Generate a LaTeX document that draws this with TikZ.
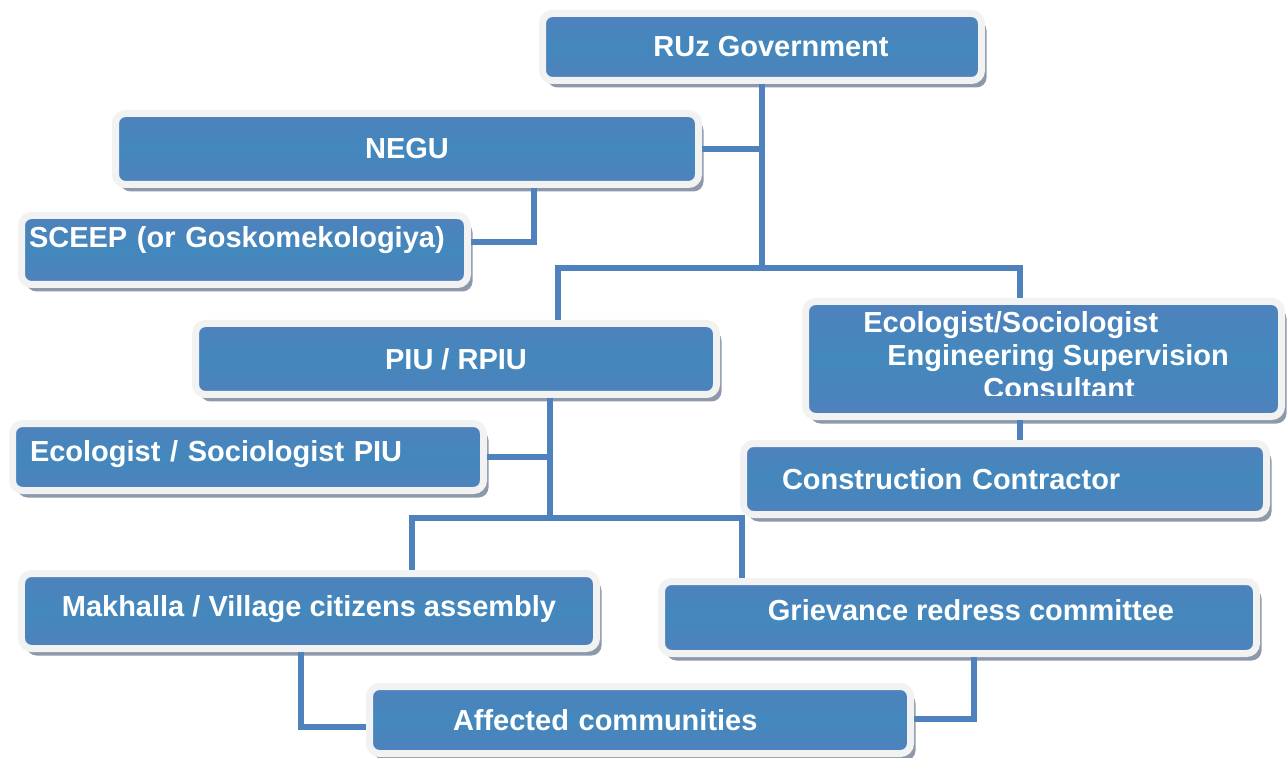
\documentclass[tikz,border=0pt]{standalone}
\usepackage{fontspec}
\setmainfont{Liberation Sans}
\usetikzlibrary{shadows}

\definecolor{boxblue}{HTML}{4F81BD}
\definecolor{boxmid}{HTML}{4388BC}
\definecolor{boxrim}{HTML}{F2F2F2}
\definecolor{boxshade}{HTML}{8D99AA}
\definecolor{linkblue}{HTML}{4F81BD}

\begin{document}
\begin{tikzpicture}[
    txt/.style={text=white,font=\fontsize{16.5}{18.7}\selectfont\bfseries},
    box/.style={txt,draw=boxrim,line width=0.14cm,rounded corners=0.2cm,
        top color=boxblue,bottom color=boxblue,middle color=boxmid,
        drop shadow={shadow xshift=0.1cm,shadow yshift=-0.14cm,fill=boxshade,opacity=1},
        inner sep=0.15cm},
    link/.style={draw=linkblue,line width=0.12cm}]
    \useasboundingbox (0cm,0cm) rectangle (25.74cm,-15.16cm);

    % draw the boxes
    \node[box,minimum width=8.78cm,minimum height=1.34cm] (gov) at (15.24cm,-0.94cm) {\hspace*{0.36cm}RUz Government};
    \node[box,minimum width=11.66cm,minimum height=1.42cm] (negu) at (8.14cm,-2.98cm) {NEGU};
    \node[box,minimum width=8.92cm,minimum height=1.38cm,text width=8.62cm,align=left,text depth=0.54cm] (sceep) at (4.89cm,-5cm) {SCEEP (or Goskomekologiya)};
    \node[box,minimum width=10.42cm,minimum height=1.42cm] (piu) at (9.12cm,-7.18cm) {PIU / RPIU};
    \node[box,minimum width=9.52cm,minimum height=2.3cm] (esc) at (20.87cm,-7.18cm) {};
    \node[box,minimum width=9.42cm,minimum height=1.34cm,inner xsep=0.35cm,text width=8.72cm,align=left,text depth=0.26cm] (ecopiu) at (4.96cm,-9.14cm) {Ecologist / Sociologist PIU};
    \node[box,minimum width=10.46cm,minimum height=1.42cm,inner xsep=0.77cm,text width=8.92cm,align=left] (contr) at (20.1cm,-9.58cm) {Construction Contractor};
    \node[box,minimum width=11.5cm,minimum height=1.5cm,text depth=0.22cm] (makh) at (6.18cm,-12.22cm) {Makhalla / Village citizens assembly};
    \node[box,minimum width=11.9cm,minimum height=1.44cm,text depth=0.32cm] (griev) at (19.18cm,-12.35cm) {\hspace*{0.48cm}Grievance redress committee};
    \node[box,minimum width=10.82cm,minimum height=1.34cm,inner xsep=1.67cm,text width=7.48cm,align=left] (aff) at (12.8cm,-14.4cm) {Affected communities};

    % the consultant text runs out of its box, so cut it off
    \begin{scope}
        \clip (esc.north west) rectangle ([yshift=-0.72cm]esc.east);
        \node[txt,inner sep=0pt,align=left,anchor=base west] (esctext) at (17.26cm,-7.96cm)
            {Ecologist/Sociologist\\\hspace*{0.48cm}Engineering Supervision\\\hspace*{2.4cm}Consultant};
    \end{scope}

    % draw the links between the boxes
    \coordinate (jl) at (11.16cm,-5.36cm);
    \coordinate (jr) at (20.4cm,-5.36cm);
    \coordinate (nk) at (10.68cm,-4.84cm);
    \coordinate (pj) at (11cm,-10.36cm);
    \coordinate (ml) at (8.24cm,-10.36cm);
    \coordinate (mr) at (14.84cm,-10.36cm);
    \coordinate (ak) at (6.02cm,-14.54cm);
    \coordinate (gk) at (19.48cm,-14.38cm);

    \draw[link] (gov.south) -- (gov.south |- jl);
    \draw[link] (negu.east) -- (negu.east -| gov.south);
    \draw[link] (negu.south -| nk) -- (nk) -- (sceep.east |- nk);
    \draw[link] (piu.north -| jl) -- (jl) -- (jr) -- (esc.north -| jr);
    \draw[link] (esc.south -| jr) -- (contr.north -| jr);
    \draw[link] (piu.south -| pj) -- (pj);
    \draw[link] (ecopiu.east) -- (ecopiu.east -| pj);
    \draw[link] (makh.north -| ml) -- (ml) -- (mr) -- (griev.north -| mr);
    \draw[link] (makh.south -| ak) -- (ak) -- (aff.west |- ak);
    \draw[link] (griev.south -| gk) -- (gk) -- (aff.east |- gk);
\end{tikzpicture}
\end{document}
